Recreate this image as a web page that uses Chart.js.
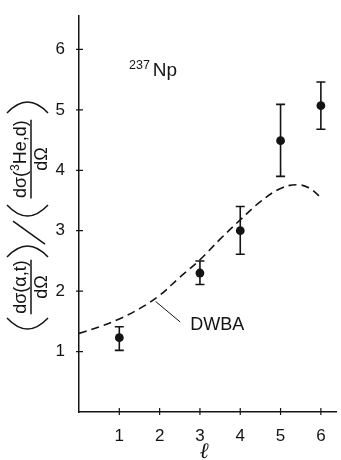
<!DOCTYPE html>
<html><head><meta charset="utf-8">
<script src="https://cdn.jsdelivr.net/npm/chart.js@4.4.1/dist/chart.umd.min.js"></script>
<style>html,body{margin:0;padding:0;background:#fff;overflow:hidden}canvas{display:block}</style>
</head><body>
<canvas id="c" width="341" height="460" style="width:341px;height:460px"></canvas>
<script>
// ---- data ----
const ellValues   = [1, 3, 4, 5, 6];
const ratioValues = [1.23, 2.30, 3.00, 4.49, 5.07];
const errLower    = [1.02, 2.11, 2.61, 3.90, 4.68];
const errUpper    = [1.41, 2.50, 3.40, 5.09, 5.46];
const dwbaEll     = [0, 0.5, 1, 1.5, 2, 2.5, 3, 3.5, 4, 4.5, 5, 5.4, 5.7, 6];
const dwbaRatio   = [1.30, 1.41, 1.54, 1.71, 1.93, 2.23, 2.52, 2.86, 3.18, 3.48, 3.70, 3.76, 3.71, 3.55];
const xTickValues = [1, 2, 3, 4, 5, 6];
const yTickValues = [1, 2, 3, 4, 5, 6];

const FONT = "'Liberation Sans', Arial, Helvetica, sans-serif";
const INK = '#141414';
Chart.defaults.font.family = FONT;
Chart.defaults.color = INK;

const pointsData = ellValues.map((l, i) => ({x: l, y: ratioValues[i]}));
const dwbaData = dwbaEll.map((l, i) => ({x: l, y: dwbaRatio[i]}));

const errorBarPlugin = {
  id: 'errorBars',
  afterDatasetsDraw(chart) {
    const ctx = chart.ctx, xs = chart.scales.x, ys = chart.scales.y;
    ctx.save(); ctx.strokeStyle = INK; ctx.lineWidth = 1.6;
    ellValues.forEach((l, i) => {
      const px = xs.getPixelForValue(l);
      const lo = ys.getPixelForValue(errLower[i]);
      const hi = ys.getPixelForValue(errUpper[i]);
      ctx.beginPath();
      ctx.moveTo(px, lo); ctx.lineTo(px, hi);
      ctx.moveTo(px - 4.5, lo); ctx.lineTo(px + 4.5, lo);
      ctx.moveTo(px - 4.5, hi); ctx.lineTo(px + 4.5, hi);
      ctx.stroke();
    });
    ctx.restore();
  }
};

const tickMarkPlugin = {
  id: 'tickMarks',
  afterDraw(chart) {
    const ctx = chart.ctx, xs = chart.scales.x, ys = chart.scales.y, a = chart.chartArea;
    ctx.save(); ctx.strokeStyle = INK; ctx.lineWidth = 1.2;
    ctx.beginPath();
    xTickValues.forEach(v => { const p = xs.getPixelForValue(v); ctx.moveTo(p, a.bottom - 4); ctx.lineTo(p, a.bottom + 3); });
    yTickValues.forEach(v => { const p = ys.getPixelForValue(v); ctx.moveTo(a.left - 3, p); ctx.lineTo(a.left + 4, p); });
    ctx.stroke(); ctx.restore();
  }
};

function measureParts(ctx, parts) {
  let total = 0;
  parts.forEach(p => { ctx.font = p.size + 'px ' + FONT; p.w = ctx.measureText(p.t).width; total += p.w; });
  return total;
}
function drawRotatedParts(ctx, parts, centerY, baseX) {
  const total = measureParts(ctx, parts);
  ctx.save(); ctx.translate(baseX, centerY); ctx.rotate(-Math.PI / 2);
  ctx.textAlign = 'left'; ctx.textBaseline = 'alphabetic';
  let u = -total / 2;
  parts.forEach(p => { ctx.font = p.size + 'px ' + FONT; ctx.fillText(p.t, u, -(p.rise || 0)); u += p.w; });
  ctx.restore();
  return total;
}
function drawFraction(ctx, numParts, den, centerY) {
  const nw = drawRotatedParts(ctx, numParts, centerY, 26);
  const dw = drawRotatedParts(ctx, [{t: den, size: 18}], centerY, 46.5);
  const w = Math.max(nw, dw) + 1;
  ctx.beginPath(); ctx.moveTo(31, centerY - w / 2); ctx.lineTo(31, centerY + w / 2); ctx.stroke();
}
function drawBigParen(ctx, yExtreme, yEnds) {
  ctx.beginPath();
  ctx.moveTo(7, yEnds);
  ctx.quadraticCurveTo(27.5, 2 * yExtreme - yEnds, 48, yEnds);
  ctx.stroke();
}

const annotationPlugin = {
  id: 'annotations',
  afterDraw(chart) {
    const ctx = chart.ctx, xs = chart.scales.x, ys = chart.scales.y, a = chart.chartArea;
    ctx.save();
    ctx.fillStyle = INK; ctx.strokeStyle = INK;
    // 237Np
    ctx.textAlign = 'left'; ctx.textBaseline = 'alphabetic';
    const npX = xs.getPixelForValue(1.24), npY = ys.getPixelForValue(5.56);
    ctx.font = '12.5px ' + FONT; ctx.fillText('237', npX, npY - 7);
    const w237 = ctx.measureText('237').width;
    ctx.font = '19px ' + FONT; ctx.fillText('Np', npX + w237 + 3, npY);
    // DWBA label with leader line
    ctx.lineWidth = 1;
    ctx.beginPath();
    ctx.moveTo(xs.getPixelForValue(1.90), ys.getPixelForValue(1.83));
    ctx.lineTo(xs.getPixelForValue(2.51), ys.getPixelForValue(1.49));
    ctx.stroke();
    ctx.font = '18px ' + FONT;
    ctx.fillText('DWBA', xs.getPixelForValue(2.76), ys.getPixelForValue(1.35));
    // x-axis title ℓ
    ctx.textAlign = 'center'; ctx.textBaseline = 'alphabetic';
    ctx.font = 'italic 22px "DejaVu Serif", serif';
    ctx.fillText('\u2113', xs.getPixelForValue(3.1), 458);
    // y-axis title: (dσ(α,t)/dΩ) / (dσ(³He,d)/dΩ)
    const c = (a.top + a.bottom) / 2;
    ctx.lineWidth = 1.5;
    const yA = c + 73, yB = c - 55;
    drawBigParen(ctx, yA + 42, yA + 31);
    drawFraction(ctx, [{t: 'd\u03c3(\u03b1,t)', size: 18}], 'd\u03a9', yA);
    drawBigParen(ctx, yA - 41, yA - 30);
    ctx.beginPath(); ctx.moveTo(13, c + 7); ctx.lineTo(45, c + 30); ctx.stroke();
    drawBigParen(ctx, yB + 57, yB + 46);
    drawFraction(ctx, [{t: 'd\u03c3(', size: 18}, {t: '3', size: 12, rise: 7}, {t: 'He,d)', size: 18}], 'd\u03a9', yB);
    drawBigParen(ctx, yB - 57, yB - 46);
    ctx.restore();
  }
};

new Chart(document.getElementById('c'), {
  type: 'scatter',
  data: {
    datasets: [
      { label: 'DWBA', data: dwbaData, showLine: true, borderColor: INK, borderWidth: 1.6,
        borderDash: [8, 5], pointRadius: 0, tension: 0.4, fill: false },
      { label: 'data', data: pointsData, showLine: false, pointRadius: 4.4,
        backgroundColor: INK, borderColor: INK, borderWidth: 0 }
    ]
  },
  options: {
    responsive: false, animation: false, devicePixelRatio: 1,
    layout: { padding: { top: 8, right: 0, left: 0, bottom: 0 } },
    plugins: { legend: { display: false }, tooltip: { enabled: false } },
    scales: {
      x: { type: 'linear', min: 0, max: 6.39, position: 'bottom',
           grid: { display: false }, border: { display: true, color: INK, width: 1.5 },
           afterBuildTicks: s => { s.ticks = xTickValues.map(v => ({value: v})); },
           afterFit: s => { s.height = 48; },
           ticks: { padding: 6, font: { size: 17 }, color: INK, maxRotation: 0, autoSkip: false } },
      y: { type: 'linear', min: 0, max: 6.55,
           grid: { display: false }, border: { display: true, color: INK, width: 1.5 },
           afterBuildTicks: s => { s.ticks = yTickValues.map(v => ({value: v})); },
           afterFit: s => { s.width = 79; },
           ticks: { padding: 6, font: { size: 17 }, color: INK, autoSkip: false } }
    }
  },
  plugins: [errorBarPlugin, tickMarkPlugin, annotationPlugin]
});
</script>
</body></html>
